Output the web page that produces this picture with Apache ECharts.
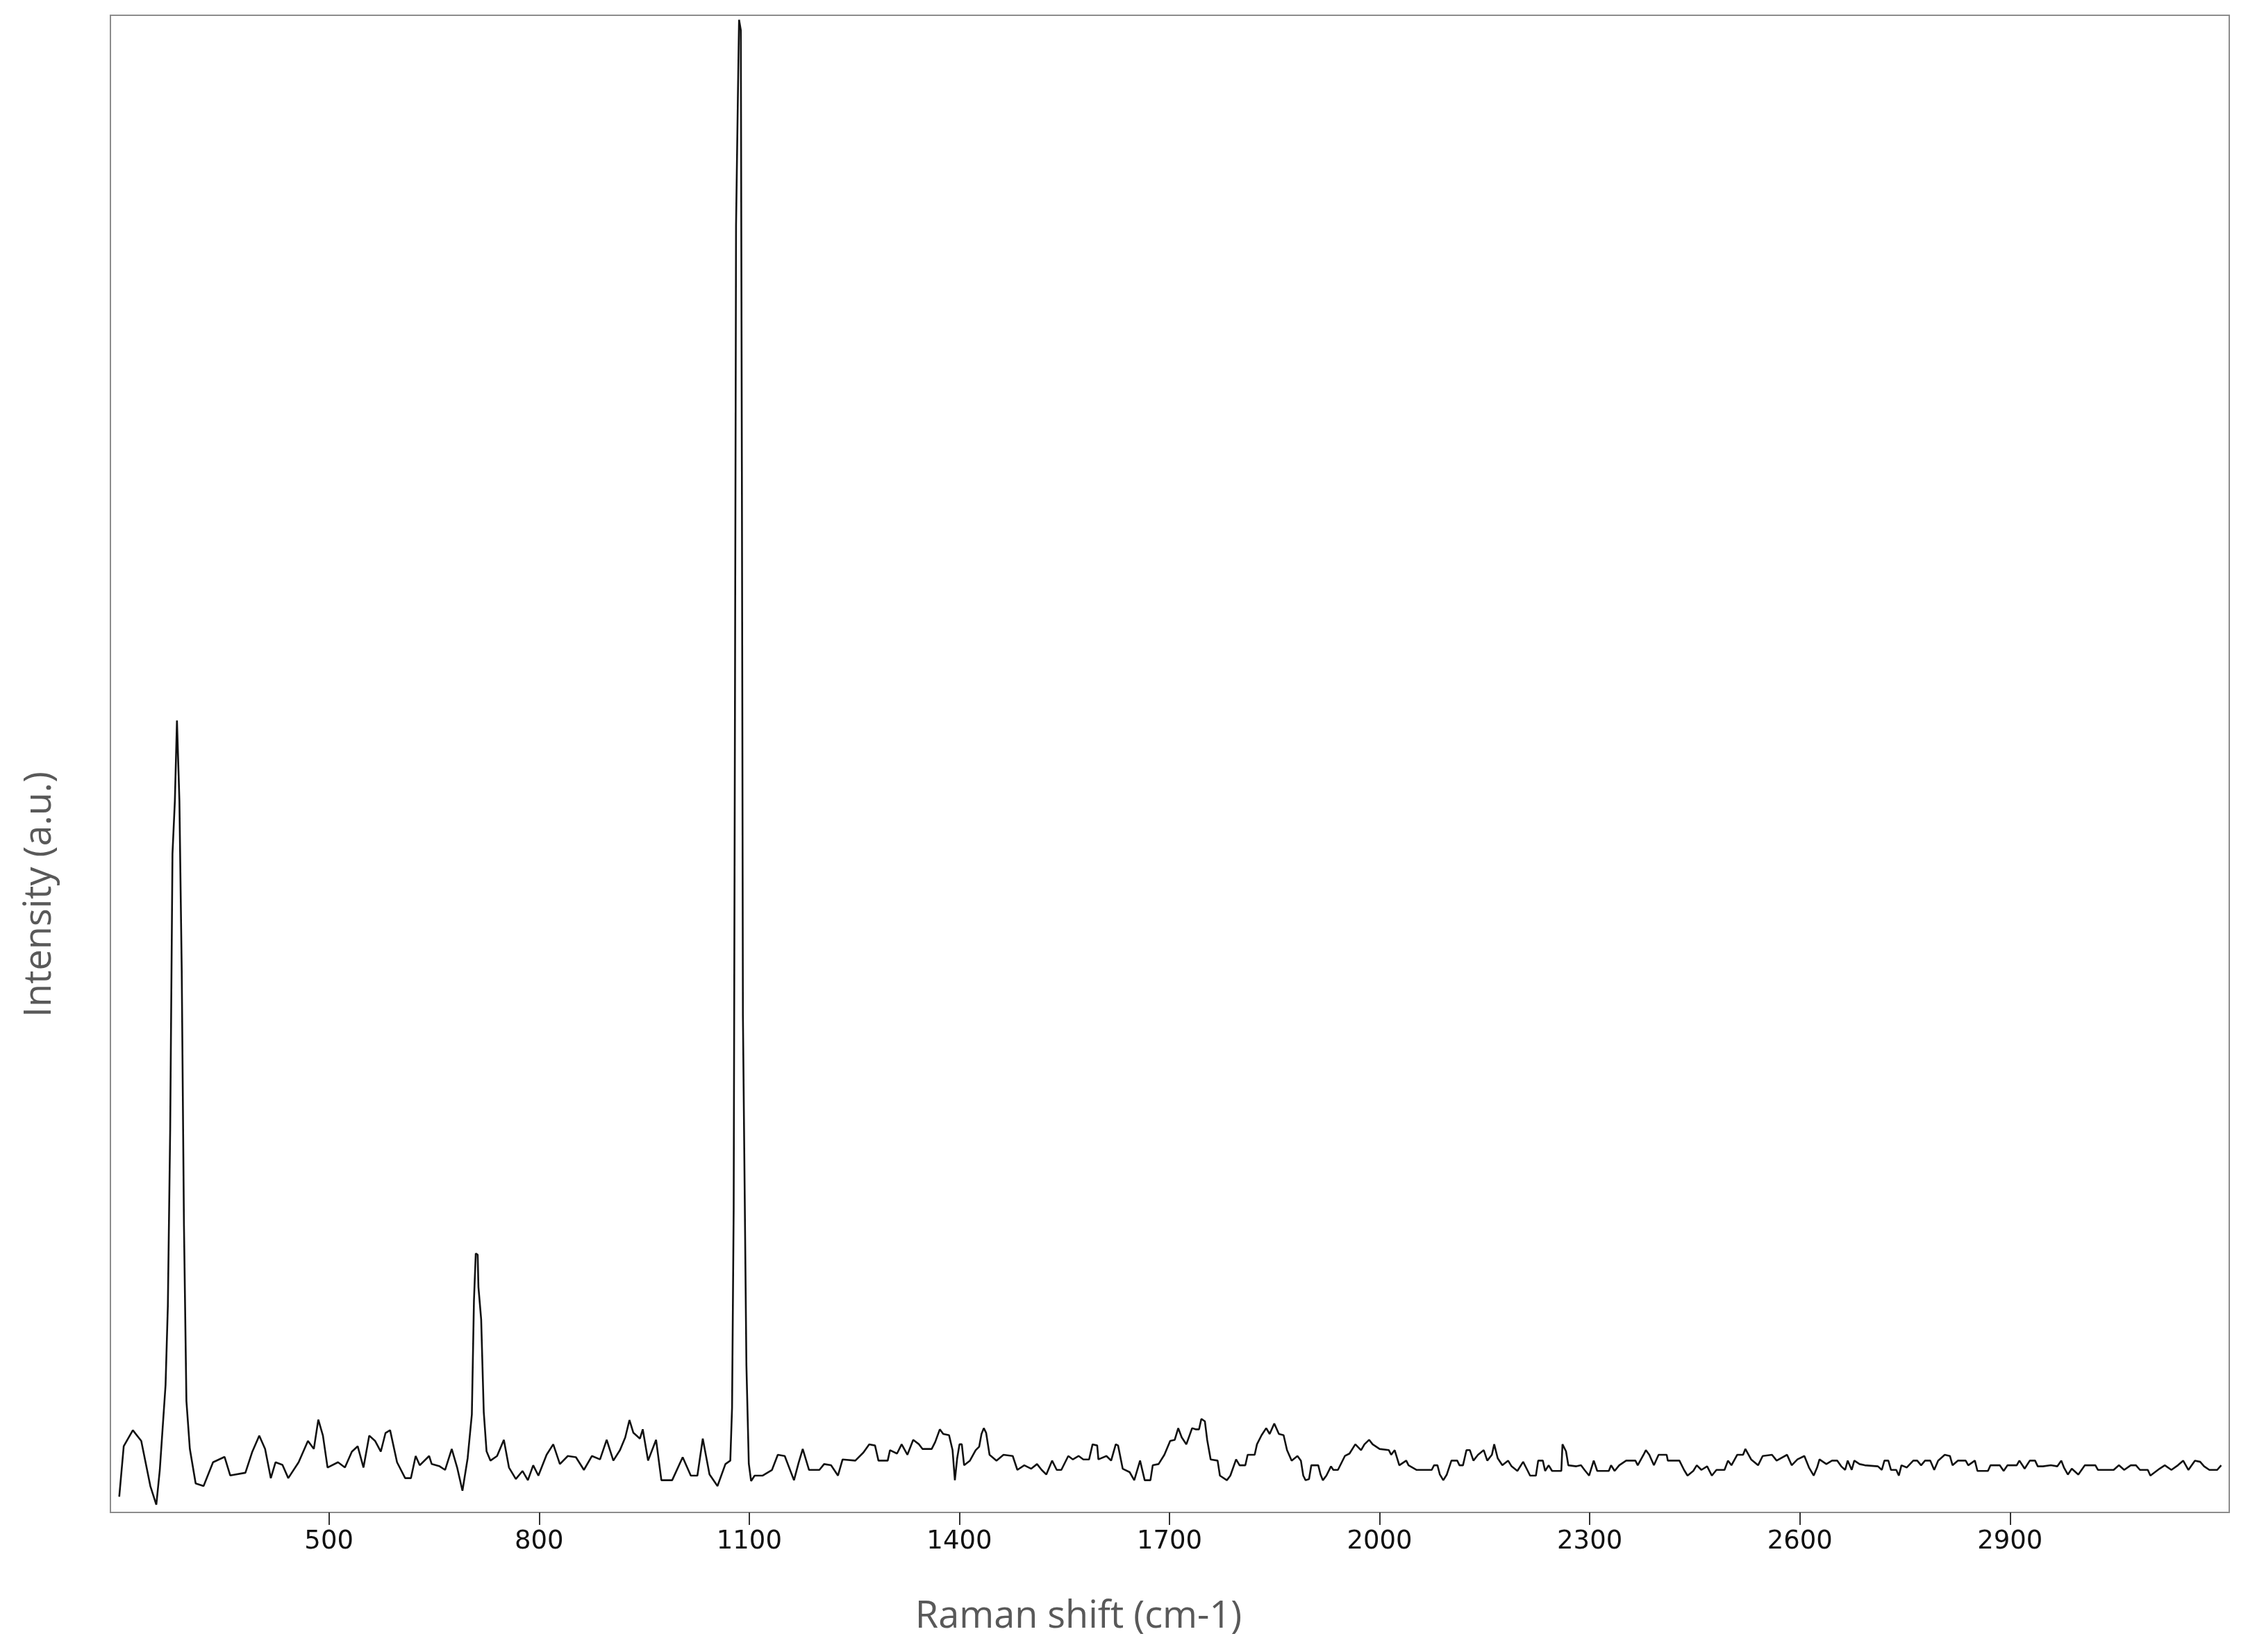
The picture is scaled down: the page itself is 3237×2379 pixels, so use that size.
<!DOCTYPE html>
<html><head><meta charset="utf-8">
<script src="https://cdn.jsdelivr.net/npm/echarts@6/dist/echarts.min.js"></script>
<style>html,body{margin:0;padding:0;background:#fff}#chart{width:3237px;height:2379px}</style>
</head><body><div id="chart"></div>
<script>
// X axis tick labels (Raman shift, cm-1)
const tickValues = [500, 800, 1100, 1400, 1700, 2000, 2300, 2600, 2900];

// Spectrum, in segments (shift in cm-1, intensity in a.u.)
const shift1 = [200.6, 207, 220, 232, 245, 253.5, 258.5, 266.7, 270, 273.3,
  276.6, 280, 283, 286.5, 289.8, 293, 296.5, 301.4, 309.7, 321,
  334.5, 351, 359, 380.7, 390.6, 400.5, 408.8, 417, 423.7, 433.6,
  441.9, 456.7, 470, 478.4, 484.8, 491.4, 498, 512.9, 522.8, 532.7,
  541, 549.3, 557.5, 565.8, 574, 580.7, 587.3, 597.2, 608.8, 617];
const intensity1 = [10.5, 44.2, 54.9, 47.8, 17.6, 5.2, 28.3, 85, 138, 255,
  440, 475, 529, 475, 362, 191.5, 74.4, 42.4, 19.4, 17.6,
  33.5, 37.1, 24.7, 26.5, 40.6, 51.3, 42.4, 22.9, 33.5, 31.8,
  22.9, 33.5, 47.8, 42.4, 62, 51.3, 30, 33.5, 30, 40.6,
  44.2, 30, 51.3, 47.8, 40.6, 53, 54.9, 33.5, 22.9, 22.9];

const shift2 = [623.8, 629.6, 643, 646.7, 658, 665.8, 675.3, 683, 690.6, 698,
  704, 707, 709.6, 712.3, 713.4, 717.3, 721, 725, 730.6, 740,
  749.7, 757, 766.8, 776.4, 784, 791.6, 799, 810.7, 820.2, 829.7,
  841, 852.6, 864, 875.5, 887, 896.5, 906, 915.5, 923, 929,
  934.6, 944, 948, 955.6, 967, 974.6, 990, 1005, 1016.6, 1026,
  1033.7, 1043.3, 1054.7, 1066, 1073];
const intensity2 = [37.7, 31.5, 37.7, 32.3, 30.8, 28.4, 42.4, 30, 14.5, 36.2,
  65.5, 141.3, 173, 172.2, 150.6, 129, 67.1, 40.8, 34.6, 37.7,
  48.5, 30, 22.3, 27.7, 21.5, 31.5, 24.6, 38.5, 45.5, 32.3,
  37.7, 36.9, 28.4, 37.7, 35.4, 48.5, 34.6, 41.6, 50.1, 61.7,
  53.2, 49.3, 55.5, 34.6, 48.5, 21.5, 21.5, 36.9, 24.6, 24.6,
  49.3, 25.4, 17.6, 32.3, 34.6];

const shift3 = [1075.5, 1077.8, 1079.5, 1081.2, 1083.8, 1085.5, 1088, 1089.5, 1091, 1096, 1099.4];
const intensity3 = [70, 202, 508, 860, 945, 997, 990, 700, 332, 98, 32.6];

const shift4 = [1102.7, 1104.4, 1107.7, 1119.3, 1132.5, 1140.8, 1150.7, 1163.9, 1170.5, 1176.4,
  1185.4, 1200.2, 1206.9, 1216.8, 1226.7, 1233.3, 1251.5, 1263, 1271.3, 1279.6,
  1284.5, 1297.7, 1301, 1311, 1317.6, 1325.8, 1334.1, 1342.4, 1347.3, 1360.5,
  1365.5, 1372.1, 1377, 1385.3, 1390.3, 1393.6, 1396.9, 1400.2, 1403.5, 1406.8,
  1415.1, 1423.3, 1428.3, 1431.6, 1434.9, 1438.2, 1443.1, 1453, 1463, 1476.2,
  1482.8, 1492.7, 1502.6, 1510.9, 1517.5, 1524.1, 1532.4, 1539, 1545.6, 1555.5,
  1562.1, 1570.4, 1577, 1585.2, 1590.2, 1596.8, 1598.5, 1610];
const intensity4 = [21, 20.7, 24.6, 24.6, 28.4, 38.5, 37.7, 21.5, 33.1, 42.4,
  28.4, 28.4, 32.3, 31.5, 24.6, 35.4, 34.6, 40, 45.5, 44.7,
  34.6, 34.6, 41.6, 39.3, 45.5, 38.5, 48.5, 45.5, 42.4, 42.4,
  47, 55.5, 52.4, 51.6, 41.6, 21.5, 36.2, 45.5, 45.5, 31.5,
  34.6, 41.6, 43.9, 52.4, 56.3, 53.2, 38.5, 34.6, 38.5, 37.7,
  28.4, 31.5, 29.2, 32.3, 28.4, 25.3, 34.6, 28.4, 28.4, 37.7,
  35.4, 37.7, 35.4, 35.4, 45.5, 44.7, 35.4, 37.7];

const shift5 = [1616.7, 1623.3, 1626.6, 1633.2, 1643.1, 1649.7, 1658, 1664.6, 1672.8, 1676.1,
  1684.4, 1692.7, 1701, 1707.5, 1712.5, 1717.5, 1724.1, 1732.3, 1737.3, 1742.2,
  1745.5, 1750.5, 1753.8, 1758.8, 1768.7, 1772, 1781.9, 1786.9, 1795.1, 1800.1,
  1808.3, 1811.6, 1821.6, 1824.9, 1831.5, 1838.1, 1843, 1849.6, 1856.2, 1862.9,
  1867.8, 1874.4, 1882.7, 1887.6, 1891, 1894.3, 1899.2, 1902.5, 1912.4, 1915.7,
  1919, 1924, 1930.6, 1933.9, 1940.5, 1950.4, 1957, 1965.3, 1973.5, 1978.4,
  1985.1, 1990, 2000, 2013.2, 2016.5, 2021.5, 2028.1, 2038, 2041.3, 2052.9,
  2074.4, 2077.7, 2082.6, 2086, 2090.9, 2095.9, 2102.5, 2110.8, 2114, 2119];
const intensity5 = [34.6, 45.5, 44.7, 29.2, 26.9, 21.5, 34.6, 21.5, 21.5, 31.5,
  32.3, 38.5, 47.8, 48.5, 56.3, 50.1, 45.5, 56.3, 55.5, 55.5,
  62.5, 60.9, 48.5, 35.4, 34.6, 24.6, 21.5, 24.6, 35.4, 31.5,
  31.5, 38.5, 38.5, 45.5, 51.6, 56.3, 52.4, 59.4, 52.4, 51.6,
  41.6, 34.6, 37.7, 34.6, 24.6, 21.5, 22.3, 31.5, 31.5, 25.3,
  21.5, 24.6, 30.8, 28.4, 28.4, 37.7, 39.3, 45.5, 41.6, 45.5,
  48.5, 45.5, 42.4, 41.6, 38.5, 41.6, 31.5, 34.6, 31.5, 28.4,
  28.4, 31.5, 31.5, 25.3, 21.5, 25.3, 34.6, 34.6, 31.5, 31.5];

const shift6 = [2124, 2128.9, 2133.9, 2140.5, 2148.7, 2153.7, 2160.3, 2163.6, 2168.6, 2175.2,
  2183.4, 2188.4, 2196.7, 2204.9, 2211.5, 2214.8, 2223.1, 2226.4, 2233, 2236.3,
  2241.3, 2246.2, 2259.4, 2261.1, 2266.1, 2269.4, 2280.9, 2287.5, 2292.5, 2299.1,
  2305.7, 2310.7, 2327.2, 2330.5, 2335.5, 2342.1, 2352, 2365.2, 2368.5, 2376.8,
  2380.1, 2385, 2391.6, 2398.3, 2409.8, 2411.5, 2428, 2434.6, 2439.6, 2447.8,
  2452.8, 2459.4, 2467.6, 2474.3, 2480.9, 2492.4, 2497.4, 2502.3, 2510.6, 2518.9,
  2522.2, 2530.4, 2540.3, 2546.9, 2560.2, 2566.8, 2581.7, 2588.3, 2596.5, 2606.4,
  2613, 2619.7, 2624.6, 2628, 2637.8];
const intensity6 = [41.6, 41.6, 34.6, 38.5, 41.6, 34.6, 38.5, 45.5, 36.2, 31.5,
  34.6, 30.8, 27.7, 33.8, 27.7, 24.6, 24.6, 34.6, 34.6, 27.7,
  31.5, 27.7, 27.7, 45.5, 40.8, 31.5, 30.8, 31.5, 28.4, 24.6,
  34.6, 27.7, 27.7, 31.5, 27.7, 31.5, 34.6, 34.6, 31.5, 38.5,
  41.6, 38.5, 31.5, 38.5, 38.5, 34.6, 34.6, 28.4, 24.6, 27.7,
  31.5, 28.4, 30.8, 24.6, 28.4, 28.4, 34.6, 31.5, 38.5, 38.5,
  42.4, 35.4, 31.5, 37.7, 38.5, 34.6, 38.5, 31.5, 35.4, 37.7,
  30, 24.6, 30, 35.4, 32.3];

const shift7 = [2645.9, 2653.4, 2659, 2664.6, 2668.3, 2674, 2677.7, 2685.2, 2692.7, 2711.4,
  2717, 2720.7, 2726.3, 2730.1, 2737.6, 2741.3, 2745, 2752.5, 2761.9, 2767.5,
  2773.1, 2778.7, 2786.2, 2791.8, 2797.4, 2806.8, 2814.2, 2818, 2825.5, 2836.7,
  2840.4, 2849.8, 2853.5, 2868.5, 2872.2, 2885.3, 2890.9, 2896.5, 2909.6, 2913.4,
  2920.9, 2928.3, 2935.8, 2939.6, 2947.1, 2958.3, 2967.6, 2973.2, 2977, 2982.6,
  2988.2, 2997.5, 3006.9, 3021.9, 3025.6, 3048, 3055.5, 3063, 3072.4, 3079.8,
  3085.5, 3096.7, 3100.4, 3113.5, 3121, 3130.4, 3139.7, 3147.2, 3154.7, 3164,
  3171.5, 3177.1, 3184.6, 3195.8, 3201.5];
const intensity7 = [34.6, 34.6, 30.8, 28.4, 34.6, 28.4, 34.6, 32.3, 31.5, 30.8,
  28.4, 34.6, 34.6, 28.4, 28.4, 24.6, 31.5, 30, 34.6, 34.6,
  31.5, 34.6, 34.6, 28.4, 34.6, 38.5, 37.7, 31.5, 34.6, 34.6,
  31.5, 34.6, 27.7, 27.7, 31.5, 31.5, 27.7, 31.5, 31.5, 34.6,
  29.2, 34.6, 34.6, 30.8, 30.8, 31.5, 30.8, 34.6, 30, 25.3,
  29.2, 25.3, 31.5, 31.5, 28.4, 28.4, 31.5, 28.4, 31.5, 31.5,
  28.4, 28.4, 24.6, 29.2, 31.5, 28.4, 31.5, 34.6, 28.4, 34.6,
  33.8, 30.8, 28.4, 28.4, 31.5];

const xTitle = 'Raman shift (cm-1)';
const yTitle = 'Intensity (a.u.)';

const shiftAll = [].concat(shift1, shift2, shift3, shift4, shift5, shift6, shift7);
const intensityAll = [].concat(intensity1, intensity2, intensity3, intensity4, intensity5, intensity6, intensity7);
const n = Math.min(shiftAll.length, intensityAll.length);
const data = [];
for (let i = 0; i < n; i++) data.push([shiftAll[i], intensityAll[i]]);

const chart = echarts.init(document.getElementById('chart'), null, {renderer: 'canvas'});
chart.setOption({
  animation: false,
  backgroundColor: '#ffffff',
  grid: {left: 159, top: 22, right: 27, bottom: 201, show: true,
    borderColor: '#8c8c8c', borderWidth: 2, backgroundColor: 'transparent'},
  xAxis: {
    type: 'value', min: 188, max: 3213,
    splitLine: {show: false},
    axisLine: {show: false},
    axisTick: {show: true, customValues: tickValues, length: 18, lineStyle: {color: '#333333', width: 2}},
    axisLabel: {customValues: tickValues, margin: 24, fontFamily: 'DejaVu Sans', fontSize: 37, color: '#111111',
      formatter: function (v) { return String(v); }}
  },
  yAxis: {type: 'value', min: 0, max: 1000, show: false},
  series: [{
    type: 'line', data: data, showSymbol: false, smooth: false,
    lineStyle: {color: '#111111', width: 2.6}
  }],
  graphic: [
    {type: 'text', x: 1553, y: 2329, style: {text: xTitle, fontFamily: 'Open Sans', fontSize: 54,
      fill: '#595959', textAlign: 'center', textVerticalAlign: 'middle'}},
    {type: 'text', x: 58, y: 1288, rotation: Math.PI / 2, style: {text: yTitle, fontFamily: 'Open Sans', fontSize: 54,
      fill: '#595959', textAlign: 'center', textVerticalAlign: 'middle'}}
  ]
});
</script>
</body></html>
